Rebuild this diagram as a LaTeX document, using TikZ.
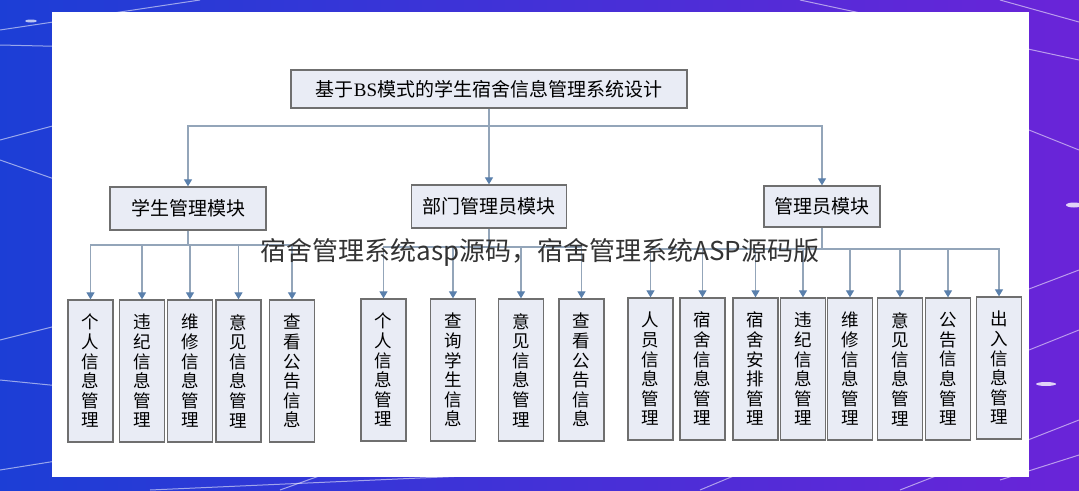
\documentclass[tikz,border=0pt]{standalone}
\usepackage{fontspec}
\setmainfont{Liberation Serif}
\newfontfamily\cjk{Noto Sans CJK SC}
\usetikzlibrary{arrows.meta}

\definecolor{bgblue}{HTML}{1C3ED6}
\definecolor{bgpurple}{HTML}{6A24D8}
\definecolor{boxfill}{HTML}{E9ECF5}
\definecolor{boxline}{HTML}{6F6F6F}
\definecolor{linkline}{HTML}{93A5B9}
\definecolor{tipblue}{HTML}{5A80AC}

\tikzset{
  modbox/.style={draw=boxline, line width=1.3pt, fill=boxfill, inner sep=0pt, font=\cjk\fontsize{19}{19}\selectfont},
  leafbox/.style={draw=boxline, line width=1.3pt, fill=boxfill, inner sep=0pt, minimum width=45pt, minimum height=142pt, align=center, font=\cjk\fontsize{17.5}{19.6}\selectfont},
  conn/.style={draw=linkline, line width=1.1pt},
  arr/.style={conn, -{Triangle[width=8pt,length=7pt,color=tipblue]}},
  wmark/.style={font=\cjk\fontsize{26}{26}\selectfont, text=black!80},
  bgline/.style={white, opacity=0.55, line width=1pt}
}

\begin{document}
\begin{tikzpicture}[x=1pt, y=-1pt]

\useasboundingbox (0,0) rectangle (1079,490);
\shade[left color=bgblue, right color=bgpurple] (0,0) rectangle (1079,490);

\draw[bgline] (0,30)--(200,0);
\draw[bgline] (0,45)--(300,52);
\draw[bgline] (0,140)--(150,100);
\draw[bgline] (0,160)--(200,230);
\draw[bgline] (0,340)--(120,310);
\draw[bgline] (0,380)--(200,400);
\draw[bgline] (0,470)--(250,430);
\draw[bgline] (150,490)--(600,470);
\draw[bgline] (280,490)--(350,465);
\draw[bgline] (700,490)--(760,465);
\draw[bgline] (800,0)--(1079,60);
\draw[bgline] (1000,0)--(1079,22);
\draw[bgline] (1029,130)--(1079,150);
\draw[bgline] (1000,300)--(1079,270);
\draw[bgline] (1029,350)--(1079,330);
\draw[bgline] (900,490)--(1079,420);
\draw[bgline] (1000,480)--(1079,455);
\fill[white, opacity=0.7] (31,21) ellipse (6 and 1.5);
\fill[white, opacity=0.8] (1046,384) ellipse (10 and 2);
\fill[white, opacity=0.8] (1074,205) ellipse (8 and 2.5);

\fill[white] (52,12) rectangle (1029,477);

\node[modbox, minimum width=396pt, minimum height=38pt] (top) at (489,89) {基于{\rmfamily BS}模式的学生宿舍信息管理系统设计};

\node[modbox, minimum width=156pt, minimum height=43pt] (m1) at (188,208.5) {学生管理模块};
\node[modbox, minimum width=155pt, minimum height=43pt] (m2) at (489,206.5) {部门管理员模块};
\node[modbox, minimum width=116pt, minimum height=41pt] (m3) at (822,206.5) {管理员模块};

\node[leafbox] (s1) at (90.5,371) {个\\人\\信\\息\\管\\理};
\node[leafbox] (s2) at (142,371) {违\\纪\\信\\息\\管\\理};
\node[leafbox] (s3) at (190,371) {维\\修\\信\\息\\管\\理};
\node[leafbox] (s4) at (238.5,371) {意\\见\\信\\息\\管\\理};
\node[leafbox] (s5) at (292,371) {查\\看\\公\\告\\信\\息};

\node[leafbox] (d1) at (383.5,370) {个\\人\\信\\息\\管\\理};
\node[leafbox] (d2) at (453,370) {查\\询\\学\\生\\信\\息};
\node[leafbox] (d3) at (521,370) {意\\见\\信\\息\\管\\理};
\node[leafbox] (d4) at (581.5,370) {查\\看\\公\\告\\信\\息};

\node[leafbox] (a1) at (650.5,369) {人\\员\\信\\息\\管\\理};
\node[leafbox] (a2) at (702.5,369) {宿\\舍\\信\\息\\管\\理};
\node[leafbox] (a3) at (755.5,369) {宿\\舍\\安\\排\\管\\理};
\node[leafbox] (a4) at (803,369) {违\\纪\\信\\息\\管\\理};
\node[leafbox] (a5) at (850,369) {维\\修\\信\\息\\管\\理};
\node[leafbox] (a6) at (900,369) {意\\见\\信\\息\\管\\理};
\node[leafbox] (a7) at (948,369) {公\\告\\信\\息\\管\\理};
\node[leafbox] (a8) at (999,368) {出\\入\\信\\息\\管\\理};

\coordinate (t0) at (489,126);
\coordinate (g1) at (188,245);
\coordinate (g2) at (489,247);
\coordinate (g3) at (822,249);

\draw[conn] (top.south) -- (t0);
\draw[arr] (t0) -| (m1.north);
\draw[arr] (t0) -- (m2.north);
\draw[arr] (t0) -| (m3.north);

\draw[conn] (m1.south) -- (g1);
\draw[arr] (g1) -| (s1.north);
\draw[arr] (g1) -| (s2.north);
\draw[arr] (g1) -| (s3.north);
\draw[arr] (g1) -| (s4.north);
\draw[arr] (g1) -| (s5.north);

\draw[conn] (m2.south) -- (g2);
\draw[arr] (g2) -| (d1.north);
\draw[arr] (g2) -| (d2.north);
\draw[arr] (g2) -| (d3.north);
\draw[arr] (g2) -| (d4.north);

\draw[conn] (m3.south) -- (g3);
\draw[arr] (g3) -| (a1.north);
\draw[arr] (g3) -| (a2.north);
\draw[arr] (g3) -| (a3.north);
\draw[arr] (g3) -| (a4.north);
\draw[arr] (g3) -| (a5.north);
\draw[arr] (g3) -| (a6.north);
\draw[arr] (g3) -| (a7.north);
\draw[arr] (g3) -| (a8.north);

\node[wmark] (wm) at (540,252) {宿舍管理系统asp源码，宿舍管理系统ASP源码版};

\end{tikzpicture}
\end{document}
